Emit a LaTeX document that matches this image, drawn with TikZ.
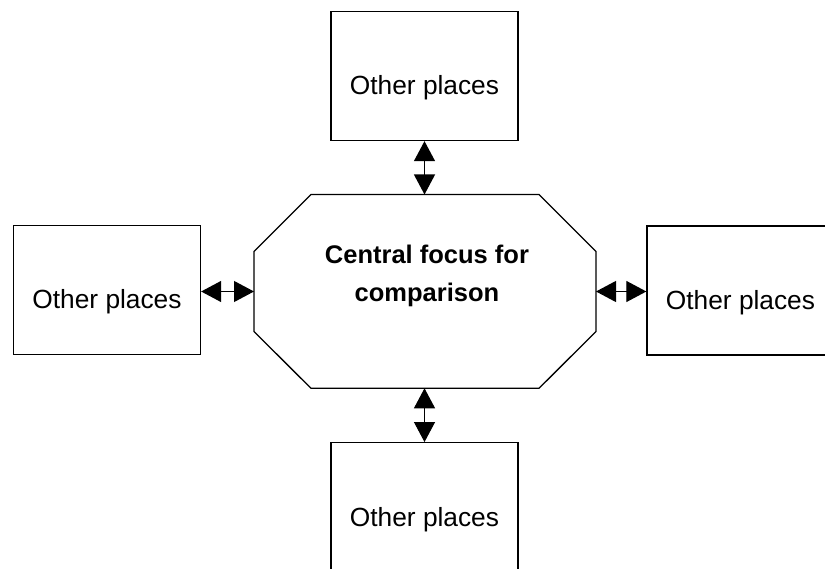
\documentclass[tikz,border=0pt]{standalone}
\usepackage{fontspec}
\setmainfont{Liberation Sans}
\usetikzlibrary{arrows.meta}
\begin{document}
\begin{tikzpicture}[x=1pt, y=-1pt,
  outline/.style={draw=black, line width=1.3pt, line join=miter},
  placebox/.style={outline, rectangle, minimum width=187pt, minimum height=129pt, inner sep=0pt},
  placetext/.style={anchor=base, inner sep=0pt, font=\fontsize{26.3}{30}\selectfont},
  focustext/.style={align=center, inner sep=0pt, font=\fontsize{25.5}{38.7}\selectfont\bfseries},
  link/.style={line width=1.1pt, {Triangle[length=20pt,width=21pt]}-{Triangle[length=20pt,width=21pt]}}
]
\useasboundingbox (0,0) rectangle (825,569);
\clip (0,0) rectangle (825,569);

% central octagon
\draw[outline] (311,194.5) -- (539,194.5) -- (596,251.5) -- (596,331.5)
  -- (539,388.3) -- (311,388.3) -- (254,331.5) -- (254,251.5) -- cycle;
\coordinate (oN) at (424.5,194.5);
\coordinate (oS) at (424.5,388.3);
\coordinate (oW) at (254,291.5);
\coordinate (oE) at (596,291.5);
\node[focustext] (focus) at (427,276) {Central focus for\\comparison};

% surrounding boxes
\node[placebox] (top) at (424.5,76) {};
\node[placetext] (toptext) at (424.5,95) {Other places};
\node[placebox] (left) at (107,290) {};
\node[placetext] (lefttext) at (107,309) {Other places};
\node[placebox] (right) at (740.5,290.5) {};
\node[placetext] (righttext) at (740.5,309.5) {Other places};
\node[placebox] (bottom) at (424.5,507.2) {};
\node[placetext] (bottomtext) at (424.5,526.5) {Other places};

% double-headed connectors
\draw[link] (top.south) -- (oN);
\draw[link] (oS) -- (bottom.north);
\draw[link] (left.east |- oW) -- (oW);
\draw[link] (oE) -- (right.west |- oE);
\end{tikzpicture}
\end{document}
